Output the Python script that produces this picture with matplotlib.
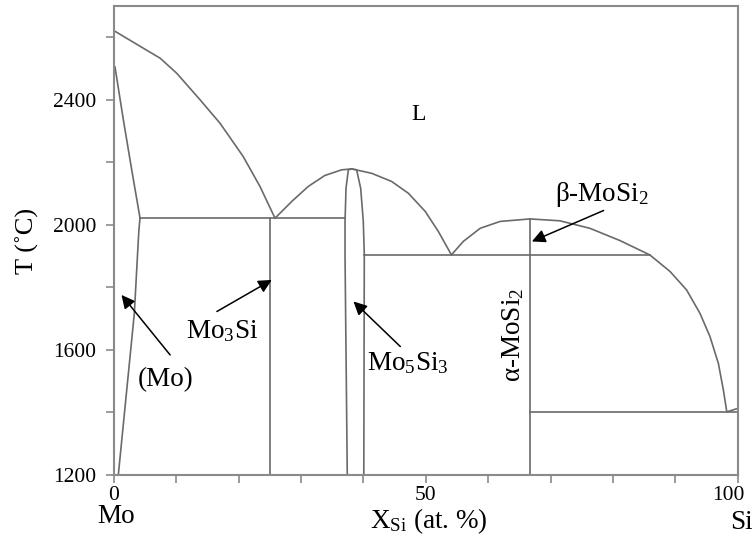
import matplotlib.pyplot as plt
from matplotlib.ticker import MultipleLocator, FixedLocator
from matplotlib.transforms import ScaledTranslation

plt.rcParams["font.family"] = ["Liberation Serif", "DejaVu Serif"]
plt.rcParams["mathtext.fontset"] = "custom"
plt.rcParams["mathtext.rm"] = "Liberation Serif"
plt.rcParams["mathtext.it"] = "Liberation Serif:italic"

# Mo-Si binary diagram, composition in at.% Si, temperature in degC
mo_liquidus_x = [0, 4.7, 7.4, 10.05, 13.8, 17.0, 20.7, 23.4, 25.8]
mo_liquidus_t = [2621, 2565, 2533, 2485, 2400, 2325, 2219, 2123, 2022]

mo_solidus_x = [0.16, 1.5, 2.84, 4.17]
mo_solidus_t = [2505, 2336, 2176, 2022]

mo_solvus_x = [4.17, 4.0, 3.9, 3.26, 0.69]
mo_solvus_t = [2022, 1985, 1952, 1717, 1200]

mid_liquidus_x = [25.8, 26.1, 28.5, 31.15, 33.8, 36.5, 38.1, 41.3, 44.5,
                  47.2, 49.9, 52.0, 54.1]
mid_liquidus_t = [2022, 2027, 2075, 2123, 2158, 2176, 2179, 2165, 2139,
                  2101, 2043, 1979, 1904]

mosi2_liquidus_x = [54.1, 56.0, 58.7, 61.9, 66.7, 71.5, 76.3, 81.1, 85.9,
                    89.15, 91.8, 93.95, 95.55, 96.9, 97.7, 98.25, 100]
mosi2_liquidus_t = [1904, 1947, 1989, 2011, 2019, 2013, 1989, 1950, 1904,
                    1851, 1792, 1717, 1643, 1557, 1472, 1402, 1413]

mo5si3_left_x = [38.1, 37.57, 37.2, 37.04, 37.04, 37.4]
mo5si3_left_t = [2179, 2176, 2117, 2011, 1904, 1200]
mo5si3_right_x = [38.1, 38.9, 39.55, 39.97, 40.13, 40.05]
mo5si3_right_t = [2179, 2176, 2117, 2011, 1904, 1200]

# invariant reactions: (x_start, x_end, T)
isotherms = [(4.17, 37.04, 2022), (40.13, 85.9, 1904), (66.7, 100, 1402)]

# line compounds: (x, T_top)
compounds = [(25.0, 2022), (66.7, 2019)]

# arrow labels: text, text position, arrow tail, arrow head
labels = ["(Mo)", r"Mo$_{3}$Si", r"Mo$_{5}$Si$_{3}$", r"β-MoSi$_{2}$"]
label_pos = [(8.3, 1504), (17.3, 1659), (47.1, 1557), (78.3, 2096)]
arrow_tail = [(9.0, 1584), (16.5, 1723), (45.9, 1611), (78.5, 2046)]
arrow_head = [(1.2, 1776), (25.3, 1824), (38.4, 1755), (67.0, 1947)]

LINE = "#6a6a6a"
FRAME = "#8a8a8a"
LABEL_SIZE = 19.5

fig = plt.figure(figsize=(7.52, 5.35), dpi=100)
ax = fig.add_axes([0.1516, 0.1121, 0.8294, 0.8767])

curves = [(mo_liquidus_x, mo_liquidus_t), (mo_solidus_x, mo_solidus_t),
          (mo_solvus_x, mo_solvus_t), (mid_liquidus_x, mid_liquidus_t),
          (mosi2_liquidus_x, mosi2_liquidus_t),
          (mo5si3_left_x, mo5si3_left_t), (mo5si3_right_x, mo5si3_right_t)]
for xs, ts in curves:
    ax.plot(xs, ts, color=LINE, lw=1.2, solid_joinstyle="round")

for x0, x1, t in isotherms:
    ax.plot([x0, x1], [t, t], color=LINE, lw=1.2)
for x, t in compounds:
    ax.plot([x, x], [1200, t], color=LINE, lw=1.2)

for txt, pos, tail, head in zip(labels, label_pos, arrow_tail, arrow_head):
    ax.annotate("", xy=head, xytext=tail,
                arrowprops=dict(arrowstyle="-|>", color="black", lw=1.1,
                                mutation_scale=20, shrinkA=0, shrinkB=0))
    ax.text(*pos, txt, fontsize=LABEL_SIZE, ha="center", va="center")

ax.text(64.0, 1648, r"α-MoSi$_{2}$", fontsize=LABEL_SIZE, rotation=90,
        ha="center", va="center")
ax.text(48.8, 2352, "L", fontsize=17, ha="center", va="center")

ax.set_xlim(0, 100)
ax.set_ylim(1200, 2700)
ax.xaxis.set_major_locator(FixedLocator([0, 50, 100]))
ax.xaxis.set_minor_locator(MultipleLocator(10))
ax.yaxis.set_major_locator(FixedLocator([1200, 1600, 2000, 2400]))
ax.yaxis.set_minor_locator(FixedLocator([1400, 1800, 2200, 2600]))
ax.tick_params(which="both", direction="out", length=6, width=1.2,
               color=FRAME, labelsize=15.5)
ax.tick_params(axis="y", pad=7)
ax.tick_params(axis="x", pad=2)
for side in ax.spines.values():
    side.set_color(FRAME)
    side.set_linewidth(1.5)

# keep the "100" label inside the figure edge
fig.canvas.draw()
last = ax.get_xticklabels()[-1]
last.set_transform(last.get_transform()
                   + ScaledTranslation(-7 / 72, 0, fig.dpi_scale_trans))

ax.set_ylabel("T (˚C)", fontsize=19, labelpad=10)
fig.text(0.5705, 0.025, r"X$_{\mathrm{Si}}$ (at. %)", fontsize=LABEL_SIZE,
         ha="center", va="center")
fig.text(0.154, 0.035, "Mo", fontsize=LABEL_SIZE, ha="center", va="center")
fig.text(0.986, 0.023, "Si", fontsize=LABEL_SIZE, ha="center", va="center")

fig.savefig("out.png", dpi=100, facecolor="white")
